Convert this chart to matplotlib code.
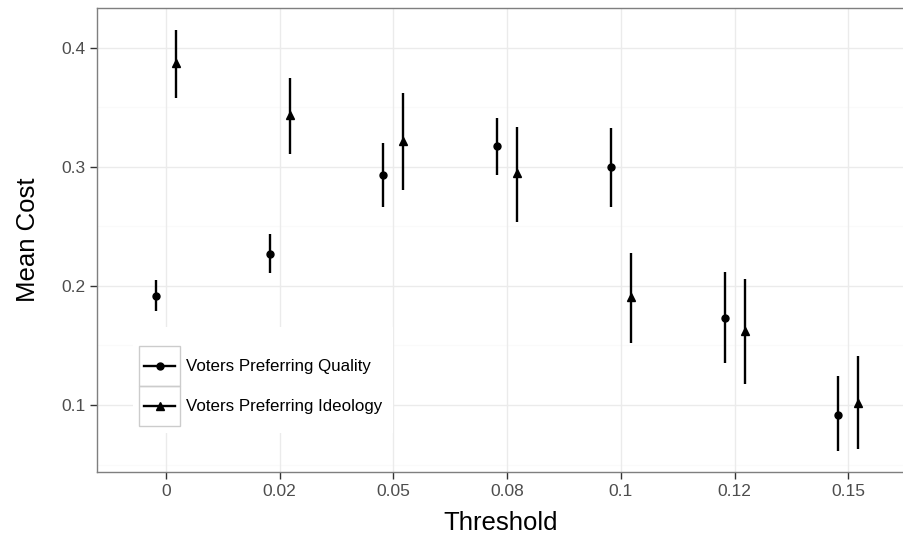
import numpy as np
import matplotlib
matplotlib.use('Agg')
import matplotlib.pyplot as plt
from matplotlib.lines import Line2D
from matplotlib.patches import Rectangle

plt.rcParams['font.family'] = ['Liberation Sans', 'DejaVu Sans']

# dados
thresholds = ['0', '0.02', '0.05', '0.08', '0.1', '0.12', '0.15']

quality_mean = [0.192, 0.227, 0.293, 0.318, 0.300, 0.173, 0.092]
quality_low = [0.179, 0.211, 0.266, 0.293, 0.266, 0.135, 0.061]
quality_high = [0.205, 0.244, 0.320, 0.341, 0.333, 0.212, 0.124]

ideology_mean = [0.387, 0.344, 0.322, 0.295, 0.191, 0.162, 0.102]
ideology_low = [0.358, 0.311, 0.281, 0.254, 0.152, 0.118, 0.063]
ideology_high = [0.415, 0.375, 0.362, 0.334, 0.228, 0.206, 0.141]

W, H = 904, 540
fig = plt.figure(figsize=(W / 100, H / 100), dpi=100)
ax = fig.add_axes([97 / W, (H - 472) / H, 807 / W, 464 / H])

x = np.arange(len(thresholds))
dodge = 0.088

# grade
for v in [0.05, 0.15, 0.25, 0.35]:
    ax.axhline(v, color='#FAFAFA', lw=0.8, zorder=0)
for v in [0.1, 0.2, 0.3, 0.4]:
    ax.axhline(v, color='#EBEBEB', lw=1.0, zorder=0)
for v in x:
    ax.axvline(v, color='#EBEBEB', lw=1.0, zorder=0)

ax.vlines(x - dodge, quality_low, quality_high, color='black', lw=1.7, zorder=2)
ax.plot(x - dodge, quality_mean, 'o', color='black', ms=5, zorder=3)
ax.vlines(x + dodge, ideology_low, ideology_high, color='black', lw=1.7, zorder=2)
ax.plot(x + dodge, ideology_mean, '^', color='black', ms=5.5, zorder=3)

ax.set_xlim(-0.607, 6.49)
ax.set_ylim(0.0437, 0.4336)
ax.set_xticks(x)
ax.set_xticklabels(thresholds)
ax.set_yticks([0.1, 0.2, 0.3, 0.4])
ax.set_yticklabels(['0.1', '0.2', '0.3', '0.4'])
ax.tick_params(axis='both', length=5, width=1, color='#333333',
               labelcolor='#4D4D4D', labelsize=12.5)
ax.tick_params(axis='x', pad=4)
ax.tick_params(axis='y', pad=3)

for s in ax.spines.values():
    s.set_color('#7F7F7F')
    s.set_linewidth(1)
ax.spines['right'].set_visible(False)  # painel cortado na direita

ax.set_xlabel('Threshold', fontsize=18.5, va='center')
ax.xaxis.set_label_coords(0.5, -(523 - 472) / 464)
ax.set_ylabel('Mean Cost', fontsize=18.5, va='center')
ax.yaxis.set_label_coords(-(97 - 28) / 807, 0.5)

# legenda
fig.add_artist(Rectangle((133 / W, (H - 433) / H), 260 / W, 106 / H,
                         transform=fig.transFigure, facecolor='white',
                         edgecolor='none'))
labels = ['Voters Preferring Quality', 'Voters Preferring Ideology']
markers = ['o', '^']
for i, (lab, mk) in enumerate(zip(labels, markers)):
    top = 346 + 40 * i
    fig.add_artist(Rectangle((139 / W, (H - top - 40) / H), 41 / W, 40 / H,
                             transform=fig.transFigure, fill=False,
                             edgecolor='#CCCCCC', lw=1))
    yc = (H - top - 20) / H
    fig.add_artist(Line2D([144 / W, 175 / W], [yc, yc], transform=fig.transFigure,
                          color='black', lw=1.7))
    fig.add_artist(Line2D([159.5 / W], [yc], transform=fig.transFigure,
                          marker=mk, color='black', ms=5 if mk == 'o' else 5.5))
    fig.text(186 / W, yc, lab, fontsize=12.2, va='center', ha='left', color='black')

fig.savefig('out.png', dpi=100, facecolor='white')
